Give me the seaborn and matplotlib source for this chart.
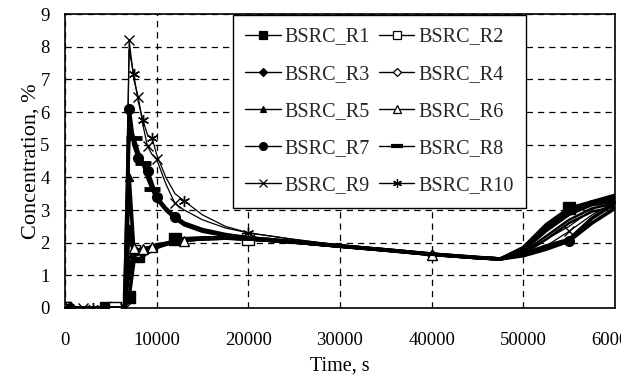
import numpy as np
import pandas as pd
import matplotlib
matplotlib.use("Agg")
import matplotlib.pyplot as plt
import seaborn as sns
from matplotlib.ticker import MultipleLocator
from matplotlib.lines import Line2D

sns.set_theme(style="white")
plt.rcParams['font.family'] = ['Liberation Serif', 'DejaVu Serif']
plt.rcParams['mathtext.fontset'] = 'stix'

time_s = [0, 500, 2000, 3000, 4500, 5500, 6500, 7000, 7500, 8000, 8500, 9000, 9500,
          10000, 11000, 12000, 13000, 15000, 17500, 20000, 25000, 30000, 35000,
          40000, 45000, 47500, 50000, 52500, 55000, 57500, 60000]

z = [0, 0, 0, 0, 0, 0, 0]
R1 = z + [0.35, 1.40, 1.60, 1.62, 1.70, 1.75, 1.85, 1.95, 2.10, 2.12, 2.15, 2.15, 2.12,
          2.02, 1.90, 1.78, 1.65, 1.55, 1.50, 1.85, 2.55, 3.05, 3.25, 3.30]
R2 = z + [1.00, 1.75, 1.80, 1.82, 1.85, 1.90, 1.95, 2.00, 2.05, 2.10, 2.12, 2.13, 2.10,
          2.00, 1.88, 1.76, 1.63, 1.53, 1.49, 1.75, 2.35, 2.85, 3.15, 3.25]
R3 = z + [2.50, 1.60, 1.65, 1.70, 1.75, 1.80, 1.88, 1.95, 2.02, 2.08, 2.12, 2.14, 2.12,
          2.02, 1.89, 1.77, 1.64, 1.54, 1.50, 1.80, 2.45, 2.90, 3.20, 3.35]
R4 = z + [1.20, 1.70, 1.75, 1.78, 1.82, 1.88, 1.92, 1.98, 2.04, 2.08, 2.12, 2.13, 2.10,
          2.00, 1.88, 1.76, 1.63, 1.53, 1.49, 1.70, 2.20, 2.70, 3.05, 3.20]
R5 = z + [4.00, 1.80, 1.78, 1.80, 1.83, 1.87, 1.92, 1.97, 2.03, 2.08, 2.12, 2.14, 2.12,
          2.02, 1.89, 1.77, 1.64, 1.54, 1.50, 1.78, 2.40, 2.95, 3.25, 3.45]
R6 = z + [1.50, 1.85, 1.80, 1.82, 1.85, 1.88, 1.92, 1.97, 2.02, 2.05, 2.10, 2.12, 2.10,
          2.00, 1.88, 1.76, 1.63, 1.53, 1.49, 1.65, 2.10, 2.60, 2.95, 3.10]
R7 = z + [6.10, 5.00, 4.60, 4.40, 4.20, 3.80, 3.40, 3.05, 2.80, 2.60, 2.40, 2.25, 2.15,
          2.03, 1.90, 1.78, 1.65, 1.54, 1.50, 1.60, 1.80, 2.05, 2.60, 3.05]
R8 = z + [5.60, 5.20, 4.75, 4.45, 4.00, 3.65, 3.35, 3.00, 2.75, 2.55, 2.35, 2.22, 2.15,
          2.03, 1.90, 1.78, 1.65, 1.54, 1.50, 1.65, 1.90, 2.10, 2.75, 3.20]
R9 = z + [8.20, 7.00, 6.45, 5.60, 4.95, 4.70, 4.55, 3.80, 3.20, 3.00, 2.70, 2.45, 2.30,
          2.10, 1.92, 1.80, 1.65, 1.52, 1.47, 1.60, 1.90, 2.35, 2.85, 3.25]
R10 = z + [7.90, 7.15, 6.30, 5.75, 5.30, 5.20, 4.70, 4.00, 3.50, 3.28, 2.85, 2.50, 2.30,
           2.10, 1.93, 1.80, 1.66, 1.53, 1.48, 1.70, 2.10, 2.50, 3.00, 3.45]

names = ["BSRC_R1", "BSRC_R2", "BSRC_R3", "BSRC_R4", "BSRC_R5",
         "BSRC_R6", "BSRC_R7", "BSRC_R8", "BSRC_R9", "BSRC_R10"]
series = [R1, R2, R3, R4, R5, R6, R7, R8, R9, R10]

rows = []
for n, s in zip(names, series):
    for t, v in zip(time_s, s):
        rows.append((n, t, v))
df = pd.DataFrame(rows, columns=["run", "time", "conc"])

styles = {
    "BSRC_R1": dict(marker="s", mfc="black", lw=2.6, ms=8, every=[0, 4, 7, 9, 15, 28]),
    "BSRC_R2": dict(marker="s", mfc="white", lw=1.8, ms=8, every=[0, 5, 8, 19]),
    "BSRC_R3": dict(marker="D", mfc="black", lw=2.6, ms=5, every=[0, 10]),
    "BSRC_R4": dict(marker="D", mfc="white", lw=1.8, ms=5, every=[0, 23]),
    "BSRC_R5": dict(marker="^", mfc="black", lw=2.6, ms=6, every=[0, 7]),
    "BSRC_R6": dict(marker="^", mfc="white", lw=1.8, ms=7, every=[0, 8, 10, 12, 16, 23]),
    "BSRC_R7": dict(marker="o", mfc="black", lw=2.6, ms=7, every=[1, 7, 9, 11, 13, 15, 28]),
    "BSRC_R8": dict(marker="_", mfc="black", lw=2.6, ms=11, every=[8, 10, 12]),
    "BSRC_R9": dict(marker="x", mfc="black", lw=0.9, ms=7, every=[2, 6, 7, 9, 11, 13, 15, 28, 30]),
    "BSRC_R10": dict(marker=(6, 2, 0), mfc="black", lw=0.9, ms=8, every=[3, 8, 10, 12, 16, 19]),
}

fig = plt.figure(figsize=(6.21, 3.85), dpi=100)
ax = fig.add_axes([0.1047, 0.2, 0.8855, 0.7636])

handles = {}
for n in names:
    st = styles[n]
    sub = df[df["run"] == n]
    mew = 3.5 if st["marker"] == "_" else 1.0
    sns.lineplot(data=sub, x="time", y="conc", ax=ax, color="black",
                 linewidth=st["lw"], marker=st["marker"], markersize=st["ms"],
                 markerfacecolor=st["mfc"], markeredgecolor="black",
                 markeredgewidth=mew, markevery=st["every"], label=n,
                 legend=False, zorder=3)
    handles[n] = Line2D([], [], color="black", linewidth=1.0,
                        marker=st["marker"], markersize=st["ms"] * 0.8,
                        markerfacecolor=st["mfc"], markeredgecolor="black",
                        markeredgewidth=(3.0 if st["marker"] == "_" else 0.9))

ax.set_xlim(0, 60000)
ax.set_ylim(0, 9)
ax.xaxis.set_major_locator(MultipleLocator(10000))
ax.xaxis.set_minor_locator(MultipleLocator(2000))
ax.yaxis.set_major_locator(MultipleLocator(1))
ax.yaxis.set_minor_locator(MultipleLocator(0.2))
ax.tick_params(axis="both", which="major", direction="in", length=8, width=1,
               labelsize=13.5, colors="black")
ax.tick_params(axis="both", which="minor", direction="in", length=4, width=1)
ax.tick_params(axis="x", which="major", pad=17)
ax.tick_params(axis="y", which="major", pad=11)
ax.grid(True, which="major", color="black", linestyle=(0, (5, 4)), linewidth=0.9)
for sp in ax.spines.values():
    sp.set_color("black")
    sp.set_linewidth(1.2)
ax.set_xlabel("Time, s", fontsize=14.5, color="black", labelpad=6)
ax.set_ylabel("Concentration, %", fontsize=16, color="black", labelpad=0)
ax.set_facecolor("white")

order = ["BSRC_R1", "BSRC_R3", "BSRC_R5", "BSRC_R7", "BSRC_R9",
         "BSRC_R2", "BSRC_R4", "BSRC_R6", "BSRC_R8", "BSRC_R10"]
leg = ax.legend([handles[n] for n in order], order, ncol=2, loc="upper left",
                bbox_to_anchor=(233 / 621, 1 - 15 / 385), bbox_transform=fig.transFigure,
                borderaxespad=0, fontsize=14.5, frameon=True, fancybox=False,
                edgecolor="black", framealpha=1, labelspacing=0.9,
                handlelength=1.75, handletextpad=0.2, columnspacing=0.45,
                borderpad=0.62)
leg.get_frame().set_linewidth(1.0)
leg.set_zorder(5)

fig.savefig("out.png", dpi=100, facecolor="white")
